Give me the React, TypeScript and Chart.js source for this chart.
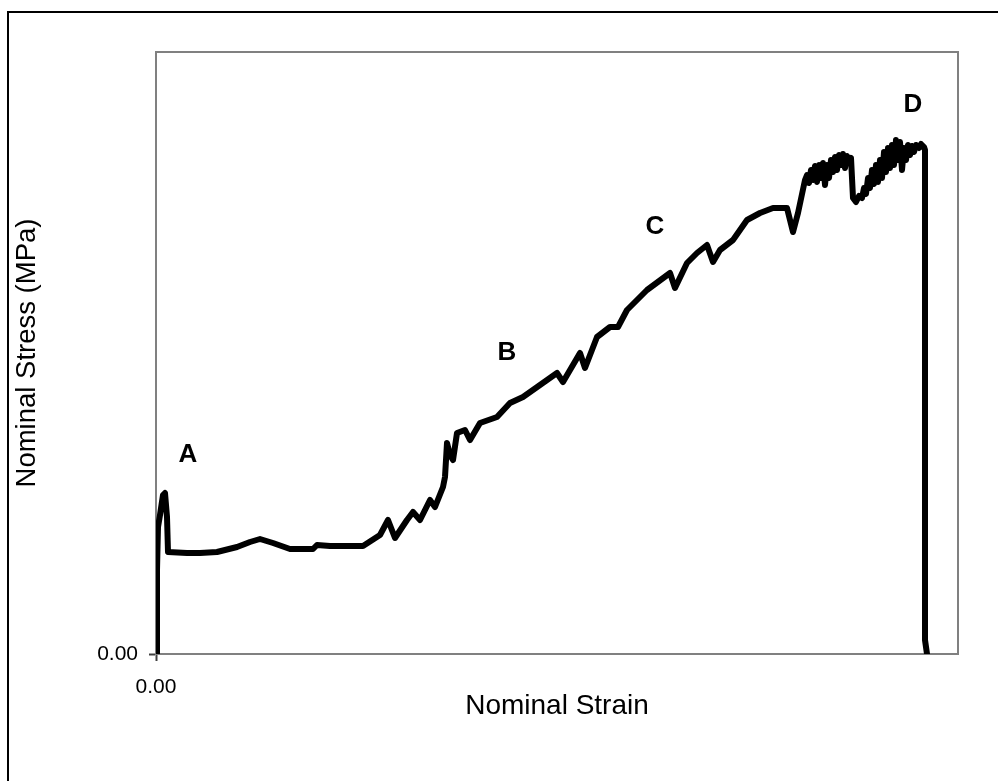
import React, { useEffect, useRef } from "react";
import { Chart, registerables } from "chart.js";

Chart.register(...registerables);

// Nominal strain (x) and nominal stress (y)
const strain = [
  0.001, 0.001, 0.001, 0.002, 0.004, 0.007, 0.009, 0.010, 0.011, 0.012,
  0.031, 0.044, 0.061, 0.081, 0.094, 0.104, 0.117, 0.134, 0.157, 0.161,
  0.174, 0.207, 0.224, 0.232, 0.239, 0.251, 0.257, 0.264, 0.274, 0.279,
  0.287, 0.289, 0.291, 0.294, 0.297, 0.301, 0.309, 0.314, 0.324, 0.341,
  0.354, 0.367, 0.384, 0.401, 0.407, 0.424, 0.429, 0.441, 0.454, 0.462,
  0.471, 0.491, 0.514, 0.519, 0.531, 0.541, 0.551, 0.557, 0.564, 0.577,
  0.591, 0.604, 0.617, 0.631, 0.637, 0.642,
  0.649, 0.651, 0.653, 0.655, 0.657, 0.659, 0.661, 0.663, 0.665, 0.667,
  0.669, 0.671, 0.673, 0.675, 0.677, 0.679, 0.681, 0.683, 0.685, 0.687,
  0.689, 0.691, 0.693, 0.695, 0.697, 0.700, 0.703, 0.706,
  0.708, 0.710, 0.712, 0.714, 0.716, 0.718, 0.720, 0.722, 0.724, 0.726,
  0.728, 0.730, 0.732, 0.734, 0.736, 0.738, 0.740, 0.742, 0.744, 0.746,
  0.748, 0.750, 0.752, 0.754, 0.756, 0.758, 0.760, 0.763, 0.765, 0.768,
  0.769, 0.769, 0.769, 0.771,
];
const stress = [
  0.0, 3.4, 8.4, 12.7, 13.9, 15.9, 16.1, 14.9, 13.7, 10.2,
  10.1, 10.1, 10.2, 10.7, 11.2, 11.5, 11.1, 10.5, 10.5, 10.9,
  10.8, 10.8, 11.9, 13.4, 11.6, 13.4, 14.2, 13.4, 15.4, 14.7,
  16.7, 17.7, 21.1, 19.9, 19.4, 22.1, 22.4, 21.4, 23.1, 23.7,
  25.1, 25.7, 26.9, 28.1, 27.2, 30.1, 28.6, 31.7, 32.7, 32.7,
  34.4, 36.4, 38.1, 36.6, 39.1, 40.1, 40.9, 39.2, 40.4, 41.4,
  43.4, 44.1, 44.6, 44.6, 42.2, 44.1,
  47.4, 47.9, 47.1, 48.4, 47.4, 48.8, 47.2, 48.9, 47.6, 49.1,
  46.9, 48.9, 47.6, 49.4, 48.2, 49.7, 48.4, 49.9, 48.9, 50.0,
  48.6, 49.8, 49.2, 49.6, 45.6, 45.2, 45.8, 45.6,
  46.6, 46.0, 47.6, 46.6, 48.4, 47.0, 48.9, 47.2, 49.4, 47.6,
  50.2, 48.2, 50.6, 48.6, 50.9, 48.9, 51.4, 49.4, 51.2, 48.4,
  50.6, 49.4, 50.9, 49.9, 50.8, 50.2, 50.9, 50.6, 51.0, 50.7,
  50.4, 25.4, 1.4, 0.0,
];

// Region labels
const markerTexts = ["A", "B", "C", "D"];
const markerStrain = [0.032, 0.351, 0.499, 0.757];
const markerStress = [19.9, 30.1, 42.7, 54.9];

// Axis settings
const xTickValues = [0];
const yTickValues = [0];
const xMax = 0.802;
const yMax = 60.2;

const FONT = "'Liberation Sans', Arial, Helvetica, sans-serif";

export default function App() {
  const canvasRef = useRef<HTMLCanvasElement | null>(null);

  useEffect(() => {
    const canvas = canvasRef.current;
    if (!canvas) return;

    const points = strain.map((x, i) => ({ x, y: stress[i] }));

    const framePlugin = {
      id: "frame",
      beforeDatasetsDraw(chart: any) {
        const { ctx, chartArea } = chart;
        ctx.save();
        ctx.strokeStyle = "#808080";
        ctx.lineWidth = 2;
        ctx.strokeRect(
          chartArea.left,
          chartArea.top,
          chartArea.right - chartArea.left,
          chartArea.bottom - chartArea.top
        );
        ctx.restore();
      },
    };

    const markerPlugin = {
      id: "markers",
      afterDatasetsDraw(chart: any) {
        const { ctx, scales } = chart;
        ctx.save();
        ctx.fillStyle = "#000";
        ctx.font = `bold 26px ${FONT}`;
        ctx.textAlign = "center";
        ctx.textBaseline = "middle";
        markerTexts.forEach((t, i) => {
          ctx.fillText(
            t,
            scales.x.getPixelForValue(markerStrain[i]),
            scales.y.getPixelForValue(markerStress[i])
          );
        });
        ctx.restore();
      },
    };

    const chart = new Chart(canvas, {
      type: "scatter",
      data: {
        datasets: [
          {
            data: points,
            showLine: true,
            borderColor: "#000",
            backgroundColor: "#000",
            borderWidth: 6,
            pointRadius: 0,
            tension: 0,
            borderJoinStyle: "round",
            borderCapStyle: "round",
          } as any,
        ],
      },
      options: {
        animation: false,
        responsive: false,
        devicePixelRatio: 1,
        layout: { padding: { left: 0, top: 52, right: 40, bottom: 0 } },
        plugins: { legend: { display: false }, tooltip: { enabled: false } },
        scales: {
          x: {
            type: "linear",
            min: 0,
            max: xMax,
            afterBuildTicks: (s: any) => {
              s.ticks = xTickValues.map((v) => ({ value: v }));
            },
            afterFit: (s: any) => {
              s.height = 127;
            },
            grid: {
              drawOnChartArea: false,
              drawTicks: true,
              tickLength: 7,
              tickWidth: 2,
              tickColor: "#404040",
            },
            border: { display: true, color: "#404040", width: 2 },
            ticks: {
              color: "#000",
              font: { family: FONT, size: 21 },
              padding: 14,
              maxRotation: 0,
              callback: (v: any) => Number(v).toFixed(2),
            },
            title: {
              display: true,
              text: "Nominal Strain",
              color: "#000",
              font: { family: FONT, size: 28 },
              padding: { top: 0, bottom: 58.2 },
            },
          },
          y: {
            type: "linear",
            min: 0,
            max: yMax,
            afterBuildTicks: (s: any) => {
              s.ticks = yTickValues.map((v) => ({ value: v }));
            },
            afterFit: (s: any) => {
              s.width = 156;
            },
            grid: {
              drawOnChartArea: false,
              drawTicks: true,
              tickLength: 7,
              tickWidth: 2,
              tickColor: "#404040",
            },
            border: { display: true, color: "#404040", width: 2 },
            ticks: {
              color: "#000",
              font: { family: FONT, size: 21 },
              padding: 11,
              callback: (v: any) => Number(v).toFixed(2),
            },
            title: {
              display: true,
              text: "Nominal Stress (MPa)",
              color: "#000",
              font: { family: FONT, size: 27.5 },
              padding: { top: 10.5, bottom: 0 },
            },
          },
        },
      },
      plugins: [framePlugin, markerPlugin],
    });

    return () => chart.destroy();
  }, []);

  return (
    <div
      style={{
        position: "fixed",
        left: 0,
        top: 0,
        width: 998,
        height: 781,
        overflow: "hidden",
        background: "#fff",
      }}
    >
      <div
        style={{
          position: "absolute",
          left: 7,
          top: 11,
          width: 1100,
          height: 900,
          border: "2px solid #000",
        }}
      />
      <canvas
        ref={canvasRef}
        width={998}
        height={781}
        style={{ position: "absolute", left: 0, top: 0, width: 998, height: 781 }}
      />
    </div>
  );
}
